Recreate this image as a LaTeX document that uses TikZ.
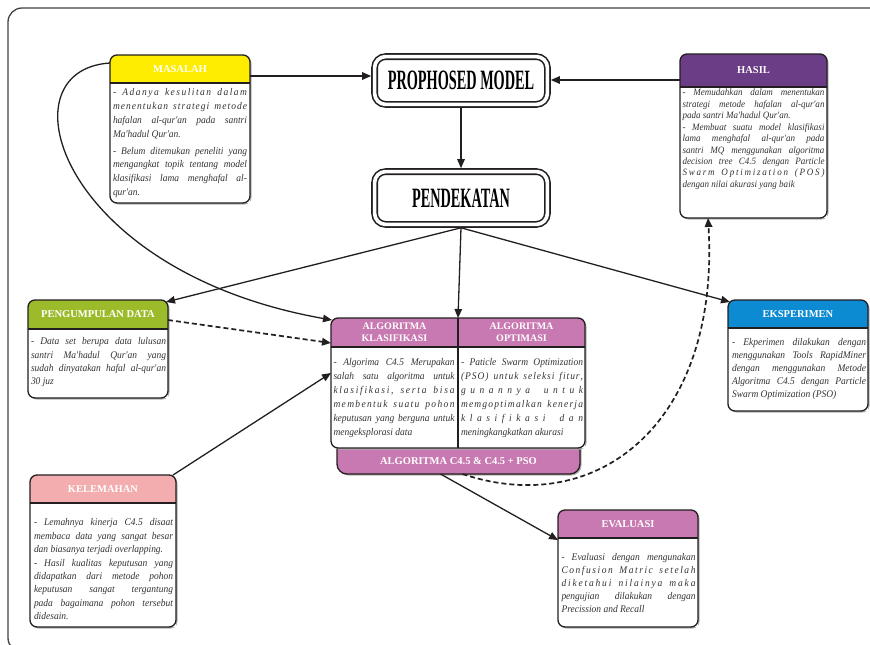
\documentclass[tikz,border=0pt]{standalone}
\usepackage{fontspec}
\setmainfont{Liberation Serif}
\newfontfamily\bodyf[FakeStretch=0.93]{Liberation Serif}
\usetikzlibrary{arrows.meta}
\definecolor{ink}{HTML}{231F20}
\definecolor{txt}{HTML}{333333}
\definecolor{yel}{HTML}{FFED00}
\definecolor{pur}{HTML}{6C3D87}
\definecolor{grn}{HTML}{9CBB2B}
\definecolor{pnk}{HTML}{C879B1}
\definecolor{blu}{HTML}{0C8AD2}
\definecolor{sal}{HTML}{F3ADAF}
\makeatletter
\newcommand\jl[1]{\hbox to\bw{\rule{0pt}{7.3pt}#1}}
\newcommand\jlast[1]{\hbox{\rule{0pt}{7.3pt}#1}}
% letter-spaced justified line
\def\swd#1{\swd@#1\@nil}
\def\swd@#1#2\@nil{#1\ifx\relax#2\relax\else\hskip0pt plus 1fil\relax\swd@#2\@nil\fi}
\def\jls#1{\hbox to\bw{\rule{0pt}{7.3pt}\jls@#1 \@nil}}
\def\jls@#1 #2\@nil{\swd{#1}\ifx\relax#2\relax\else\hskip0.25em plus 2.5fil\relax\jls@#2\@nil\fi}
\makeatother
\tikzset{
  bx/.style={rectangle, fill=white, inner sep=0pt, outer sep=0pt},
  bline/.style={draw=ink, line width=1.3pt},
  shad/.style={fill=black!30},
  hd/.style={rectangle, inner sep=0pt, outer sep=0pt, text=white, align=center,
    font=\bfseries\fontsize{10.5}{12}\selectfont},
  body/.style={inner sep=0pt, outer sep=0pt, anchor=north west, text=txt},
  arr/.style={draw=ink, line width=1.3pt, -{Triangle[length=9pt,width=7.5pt]}},
  darr/.style={arr, dash pattern=on 5pt off 3pt, line width=1.7pt},
  dbl/.style={draw=ink, line width=1.6pt, double=white, double distance=3.6pt,
    rounded corners=11pt, fill=white, inner sep=0pt, outer sep=3.4pt,
    minimum width=172.8pt},
}
\newcommand\ibox[8]{%
  \fill[shad, rounded corners=7pt] ({#2+1.5},{#3+1.5}) rectangle ({#2+#4+1.5},{#3+#5+1.5});
  \node[bx, minimum width=#4pt, minimum height=#5pt, anchor=north west] (#1) at (#2,#3) {};
  \begin{scope}
    \clip[rounded corners=7pt] (#1.north west) rectangle (#1.south east);
    \fill[#7] (#1.north west) rectangle ([yshift=-#6pt]#1.north east);
  \end{scope}
  \draw[bline] ([yshift=-#6pt]#1.north west) -- ([yshift=-#6pt]#1.north east);
  \draw[bline, rounded corners=7pt] (#1.north west) rectangle (#1.south east);
  \node[hd, minimum width=#4pt, minimum height=#6pt, anchor=north west] (#1h) at (#2,#3) {#8};
}
\begin{document}
\begin{tikzpicture}[x=1pt,y=-1pt]
\useasboundingbox (0,0) rectangle (870,645);
% outer frame
\begin{scope}
  \clip (0,0) rectangle (870,645);
  \draw[bline, draw=ink!85, rounded corners=14pt] (890,652) -- (8,652) -- (8,8) -- (890,8);
\end{scope}

% main model boxes
\node[dbl, minimum height=47.8pt] (prop) at (461,80.5)
  {\scalebox{0.51}[1]{\bfseries\fontsize{28}{28}\selectfont PROPHOSED MODEL}};
\node[dbl, minimum height=52.8pt] (pend) at (461,198)
  {\scalebox{0.51}[1]{\bfseries\fontsize{28}{28}\selectfont PENDEKATAN}};

% MASALAH
\ibox{mas}{110}{55}{140}{148}{28}{yel}{MASALAH}
\node[body, font=\bodyf\itshape\fontsize{10.2}{13.8}\selectfont] (masb) at (113,88.5) {\def\bw{134pt}\vtop{%
\jls{- Adanya kesulitan dalam}
\jls{menentukan strategi metode}
\jl{hafalan al-qur'an pada santri}
\jlast{Ma'hadul Qur'an.}
\vskip3pt
\jl{- Belum ditemukan peneliti yang}
\jl{mengangkat topik tentang model}
\jl{klasifikasi lama menghafal al-}
\jlast{qur'an.}}};

% HASIL
\ibox{has}{680}{54}{147}{164}{33}{pur}{HASIL}
\node[body, font=\bodyf\itshape\fontsize{9.7}{11.45}\selectfont] (hasb) at (682.5,88.5) {\def\bw{142pt}\vtop{%
\jl{- Memudahkan dalam menentukan}
\jl{strategi metode hafalan al-qur'an}
\jlast{pada santri Ma'hadul Qur'an.}
\jl{- Membuat suatu model klasifikasi}
\jl{lama menghafal al-qur'an pada}
\jl{santri MQ menggunakan algoritma}
\jl{decision tree C4.5 dengan Particle}
\jls{Swarm Optimization (POS)}
\jlast{dengan nilai akurasi yang baik}}};

% PENGUMPULAN DATA
\ibox{pgd}{28}{300}{140}{98}{29}{grn}{PENGUMPULAN DATA}
\node[body, font=\bodyf\itshape\fontsize{10.2}{13.3}\selectfont] (pgdb) at (31,337.5) {\def\bw{135pt}\vtop{%
\jl{- Data set berupa data lulusan}
\jl{santri Ma'hadul Qur'an yang}
\jl{sudah dinyatakan hafal al-qur'an}
\jlast{30 juz}}};

% EKSPERIMEN
\ibox{eks}{728}{300}{140}{111}{28}{blu}{EKSPERIMEN}
\node[body, font=\bodyf\itshape\fontsize{10.2}{13}\selectfont] (eksb) at (732,338.5) {\def\bw{134pt}\vtop{%
\jl{- Ekperimen dilakukan dengan}
\jl{menggunakan Tools RapidMiner}
\jl{dengan menggunakan Metode}
\jl{Algoritma C4.5 dengan Particle}
\jlast{Swarm Optimization (PSO)}}};

% KELEMAHAN
\ibox{kel}{30}{475}{146}{152}{28}{sal}{KELEMAHAN}
\node[body, font=\bodyf\itshape\fontsize{10.2}{13.4}\selectfont] (kelb) at (34,518.5) {\def\bw{139pt}\vtop{%
\jl{- Lemahnya kinerja C4.5 disaat}
\jl{membaca data yang sangat besar}
\jlast{dan biasanya terjadi overlapping.}
\jl{- Hasil kualitas keputusan yang}
\jl{didapatkan dari metode pohon}
\jl{keputusan sangat tergantung}
\jl{pada bagaimana pohon tersebut}
\jlast{didesain.}}};

% EVALUASI
\ibox{eva}{558}{510}{140}{117}{28}{pnk}{EVALUASI}
\node[body, font=\bodyf\itshape\fontsize{10.2}{13}\selectfont] (evab) at (561.5,553.5) {\def\bw{134pt}\vtop{%
\jl{- Evaluasi dengan mengunakan}
\jls{Confusion Matric setelah}
\jls{diketahui nilainya maka}
\jl{pengujian dilakukan dengan}
\jlast{Precission and Recall}}};

% ALGORITMA centre box
\fill[shad, rounded corners=10pt] (338.5,437.5) rectangle (581.5,475.5);
\node[rectangle, fill=pnk, bline, rounded corners=10pt, minimum width=243pt, minimum height=38pt,
  anchor=north west, inner sep=0pt, outer sep=0pt] (algbar) at (337,436) {};
\fill[shad, rounded corners=7pt] (332.5,319.5) rectangle (586.5,449.5);
\node[bx, minimum width=254pt, minimum height=130pt, anchor=north west] (alg) at (331,318) {};
\begin{scope}
  \clip[rounded corners=7pt] (alg.north west) rectangle (alg.south east);
  \fill[pnk] (alg.north west) rectangle ([yshift=-29pt]alg.north east);
\end{scope}
\draw[bline] ([yshift=-29pt]alg.north west) -- ([yshift=-29pt]alg.north east);
\draw[bline] (alg.north) -- (alg.south);
\draw[bline, rounded corners=7pt] (alg.north west) rectangle (alg.south east);
\node[hd, minimum width=127pt, minimum height=29pt, anchor=north west,
  font=\bfseries\fontsize{10}{12}\selectfont] (algl) at (331,318) {ALGORITMA\\KLASIFIKASI};
\node[hd, minimum width=127pt, minimum height=29pt, anchor=north west,
  font=\bfseries\fontsize{10}{12}\selectfont] (algr) at (458,318) {ALGORITMA\\OPTIMASI};
\node[hd] (algbart) at (458.5,461.5) {ALGORITMA C4.5 \& C4.5 + PSO};
\node[body, font=\bodyf\itshape\fontsize{10.2}{14}\selectfont] (alglb) at (333.5,358.5) {\def\bw{121pt}\vtop{%
\jl{- Algorima C4.5 Merupakan}
\jl{salah satu algoritma untuk}
\jls{klasifikasi, serta bisa}
\jls{membentuk suatu pohon}
\jl{keputusan yang berguna untuk}
\jlast{mengeksplorasi data}}};
\node[body, font=\bodyf\itshape\fontsize{10.2}{14}\selectfont] (algrb) at (461,358.5) {\def\bw{122pt}\vtop{%
\jl{- Paticle Swarm Optimization}
\jls{(PSO) untuk seleksi fitur,}
\jls{gunannya untuk}
\jls{memgoptimalkan kenerja}
\jls{klasifikasi dan}
\jlast{meningkangkatkan akurasi}}};

% connectors
\draw[arr] ([yshift=-21pt]mas.north east) -- ([yshift=-21pt]mas.north east -| prop.west);
\draw[arr] ([yshift=-26pt]has.north west) -- ([yshift=-26pt]has.north west -| prop.east);
\draw[arr] (prop.south) -- (pend.north);
\draw[arr] (pend.south) -- ([xshift=-2pt,yshift=-2pt]pgd.north east);
\draw[arr] (pend.south) -- (alg.north);
\draw[arr] (pend.south) -- ([xshift=2pt,yshift=-2pt]eks.north west);
\draw[darr] ([yshift=-20pt]pgd.north east) -- ([yshift=-25pt]alg.north west);
\draw[arr] ([xshift=-3pt]kel.north east) -- ([yshift=-55pt]alg.north west);
\draw[arr] ([yshift=-8pt]mas.north west) .. controls (0,70) and (60,272) .. ([xshift=1pt,yshift=-2pt]alg.north west);
\draw[arr] ([xshift=-18pt]algbar.south) -- ([yshift=-30pt]eva.north west);
\draw[darr] ([xshift=4pt]algbar.south) .. controls (600,520) and (720,420) .. ([xshift=28pt]has.south west);
\end{tikzpicture}
\end{document}
